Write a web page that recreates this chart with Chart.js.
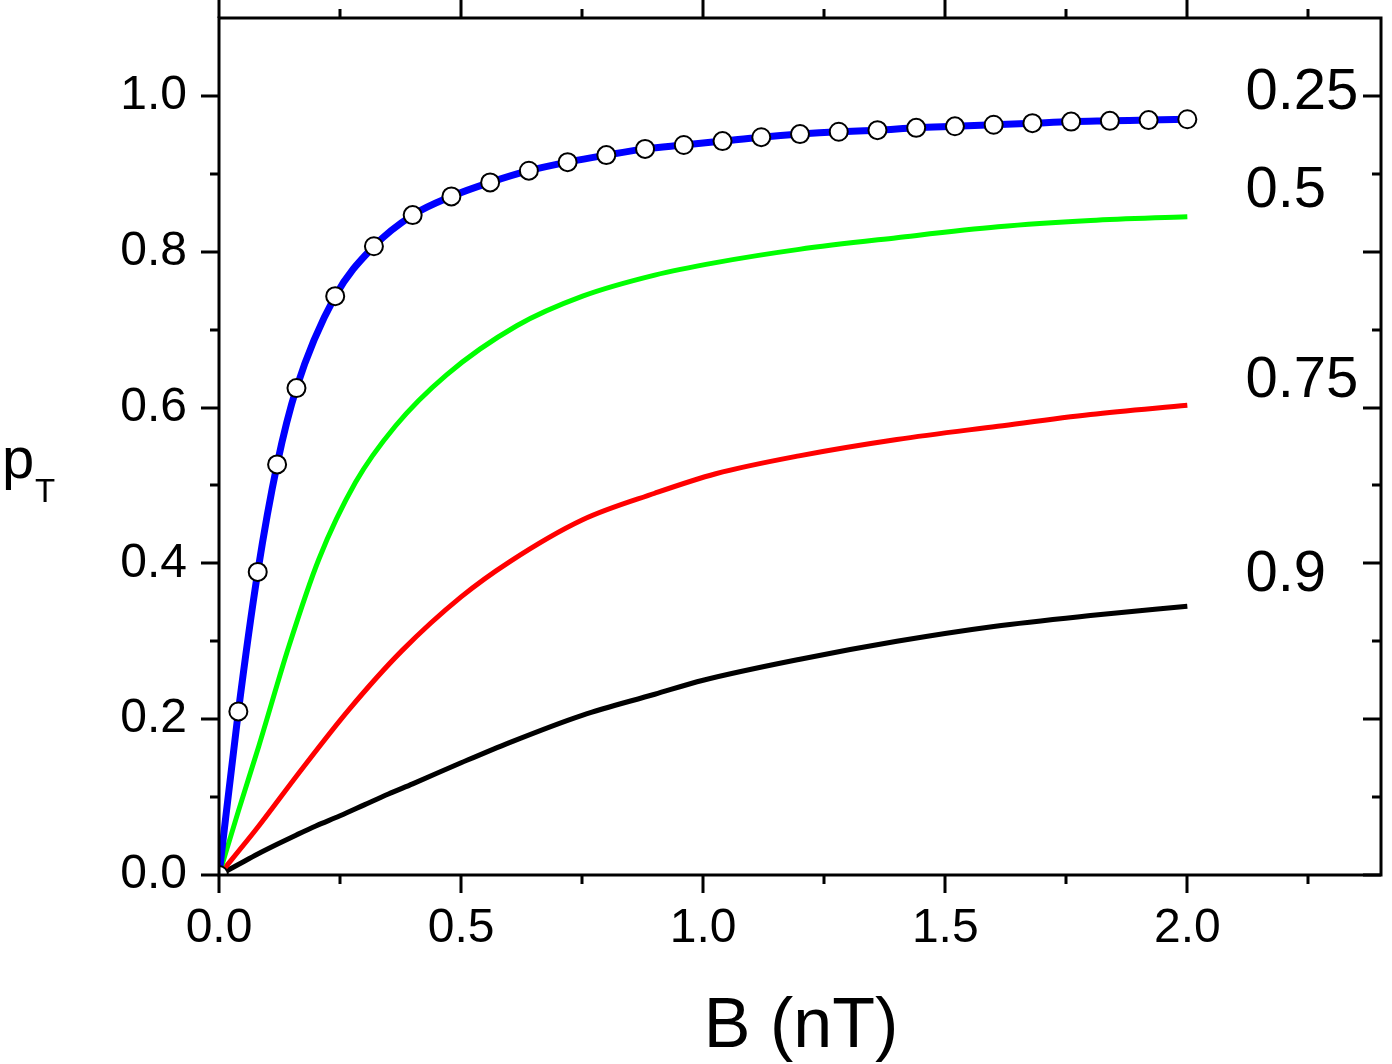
<!DOCTYPE html>
<html>
<head>
<meta charset="utf-8">
<script src="https://cdn.jsdelivr.net/npm/chart.js@4.4.1/dist/chart.umd.min.js"></script>
<style>
  html, body { margin:0; padding:0; background:#fff; }
  #wrap { width:1392px; height:1064px; }
</style>
</head>
<body>
<div id="wrap"><canvas id="c" width="1392" height="1064"></canvas></div>
<script>
// blue curve (with open circles)
const bBlue = [0, 0.04, 0.08, 0.12, 0.16, 0.24, 0.32, 0.40, 0.48, 0.56, 0.64, 0.72, 0.80, 0.88, 0.96,
               1.04, 1.12, 1.20, 1.28, 1.36, 1.44, 1.52, 1.60, 1.68, 1.76, 1.84, 1.92, 2.00];
const pBlue = [0, 0.210, 0.389, 0.527, 0.625, 0.743, 0.807, 0.847, 0.871, 0.889, 0.904, 0.915, 0.924, 0.932, 0.937,
               0.942, 0.947, 0.951, 0.954, 0.956, 0.959, 0.961, 0.963, 0.965, 0.967, 0.968, 0.969, 0.970];

// green (0.5)
const bGreen = [0, 0.04, 0.082, 0.144, 0.206, 0.282, 0.364, 0.47, 0.615, 0.751, 0.9, 1.026, 1.198, 1.4, 1.609, 1.8, 2.0];
const pGreen = [0, 0.082, 0.165, 0.293, 0.405, 0.504, 0.576, 0.642, 0.705, 0.743, 0.770, 0.786, 0.803, 0.818, 0.832, 0.840, 0.845];

// red (0.75)
const bRed = [0, 0.076, 0.165, 0.268, 0.378, 0.5, 0.6, 0.751, 0.9, 1.026, 1.198, 1.4, 1.609, 1.8, 2.0];
const pRed = [0, 0.058, 0.131, 0.212, 0.288, 0.357, 0.402, 0.456, 0.490, 0.515, 0.538, 0.559, 0.576, 0.591, 0.603];

// black (0.9)
const bBlack = [0, 0.04, 0.08, 0.12, 0.16, 0.2, 0.25, 0.3, 0.35, 0.4, 0.5, 0.6, 0.75, 0.9, 1.0, 1.2, 1.4, 1.6, 1.8, 2.0];
const pBlack = [0, 0.0135, 0.027, 0.0395, 0.0515, 0.063, 0.076, 0.090, 0.104, 0.117, 0.144, 0.170, 0.205, 0.232, 0.250, 0.277, 0.300, 0.319, 0.333, 0.345];

const curveLabels = ['0.25', '0.5', '0.75', '0.9'];
const labelAt = [[2.12, 0.983], [2.12, 0.857], [2.12, 0.613], [2.12, 0.364]];

const xMajor = [0, 0.5, 1.0, 1.5, 2.0];
const xMinor = [0.25, 0.75, 1.25, 1.75, 2.25];
const yMajor = [0, 0.2, 0.4, 0.6, 0.8, 1.0];
const yMinor = [0.1, 0.3, 0.5, 0.7, 0.9];

const FONT = '"Liberation Sans", Arial, sans-serif';

const pts = (xs, ys) => xs.map((x,i)=>({x:x, y:ys[i]}));
const noPad = s => { s.paddingTop = 0; s.paddingBottom = 0; s.paddingLeft = 0; s.paddingRight = 0; };

const framePlugin = {
  id: 'frame',
  afterDraw(chart){
    const {ctx, chartArea:a, scales:{x, y}} = chart;
    ctx.save();
    ctx.strokeStyle = '#000';
    ctx.lineWidth = 3;
    ctx.lineCap = 'butt';
    ctx.strokeRect(a.left, a.top, a.right - a.left, a.bottom - a.top);
    const big = 18, small = 9;
    ctx.beginPath();
    xMajor.concat(xMinor).forEach(v=>{
      const px = Math.round(x.getPixelForValue(v));
      const L = xMajor.includes(v) ? big : small;
      ctx.moveTo(px, a.bottom); ctx.lineTo(px, a.bottom + L);
      ctx.moveTo(px, a.top);    ctx.lineTo(px, a.top - L);
    });
    yMajor.concat(yMinor).forEach(v=>{
      const py = Math.round(y.getPixelForValue(v));
      const L = yMajor.includes(v) ? big : small;
      ctx.moveTo(a.left, py);  ctx.lineTo(a.left - L, py);
      ctx.moveTo(a.right, py); ctx.lineTo(a.right - L, py);
    });
    ctx.stroke();

    // curve labels
    ctx.fillStyle = '#000';
    ctx.textAlign = 'left';
    ctx.textBaseline = 'alphabetic';
    ctx.font = '58px ' + FONT;
    curveLabels.forEach((t,i)=>{
      ctx.fillText(t, x.getPixelForValue(labelAt[i][0]), y.getPixelForValue(labelAt[i][1]));
    });

    // axis titles
    ctx.font = '70px ' + FONT;
    ctx.textAlign = 'center';
    ctx.fillText('B (nT)', 801, 1047);
    ctx.textAlign = 'left';
    ctx.font = '58px ' + FONT;
    ctx.fillText('p', 2, 478);
    ctx.font = '33px ' + FONT;
    ctx.fillText('T', 35, 502);
    ctx.restore();
  }
};

new Chart(document.getElementById('c'), {
  type: 'scatter',
  data: {
    datasets: [
      {data: pts(bBlue, pBlue), showLine:true, borderColor:'#0000ff', borderWidth:7, cubicInterpolationMode:'monotone',
       pointRadius:9, pointBackgroundColor:'#fff', pointBorderColor:'#000', pointBorderWidth:2},
      {data: pts(bGreen, pGreen), showLine:true, borderColor:'#00ff00', borderWidth:5, cubicInterpolationMode:'monotone', pointRadius:0},
      {data: pts(bRed, pRed), showLine:true, borderColor:'#ff0000', borderWidth:5, cubicInterpolationMode:'monotone', pointRadius:0},
      {data: pts(bBlack, pBlack), showLine:true, borderColor:'#000000', borderWidth:5, cubicInterpolationMode:'monotone', pointRadius:0}
    ]
  },
  options: {
    responsive:false,
    animation:false,
    layout:{ padding:{left:0, top:18, right:7, bottom:0} },
    plugins:{ legend:{display:false}, tooltip:{enabled:false} },
    scales:{
      x:{
        type:'linear', min:0, max:2.4,
        grid:{display:false, drawTicks:false}, border:{display:false},
        afterBuildTicks: s => { s.ticks = xMajor.map(v=>({value:v})); },
        afterFit: s => { s.height = 189; noPad(s); },
        ticks:{ padding:25, color:'#000', font:{family:FONT, size:48}, callback:v=>v.toFixed(1), maxRotation:0 }
      },
      y:{
        type:'linear', min:0, max:1.1,
        grid:{display:false, drawTicks:false}, border:{display:false},
        afterBuildTicks: s => { s.ticks = yMajor.map(v=>({value:v})); },
        afterFit: s => { s.width = 219; noPad(s); },
        ticks:{ padding:32, color:'#000', font:{family:FONT, size:48}, callback:v=>v.toFixed(1) }
      }
    }
  },
  plugins:[framePlugin]
});
</script>
</body>
</html>
